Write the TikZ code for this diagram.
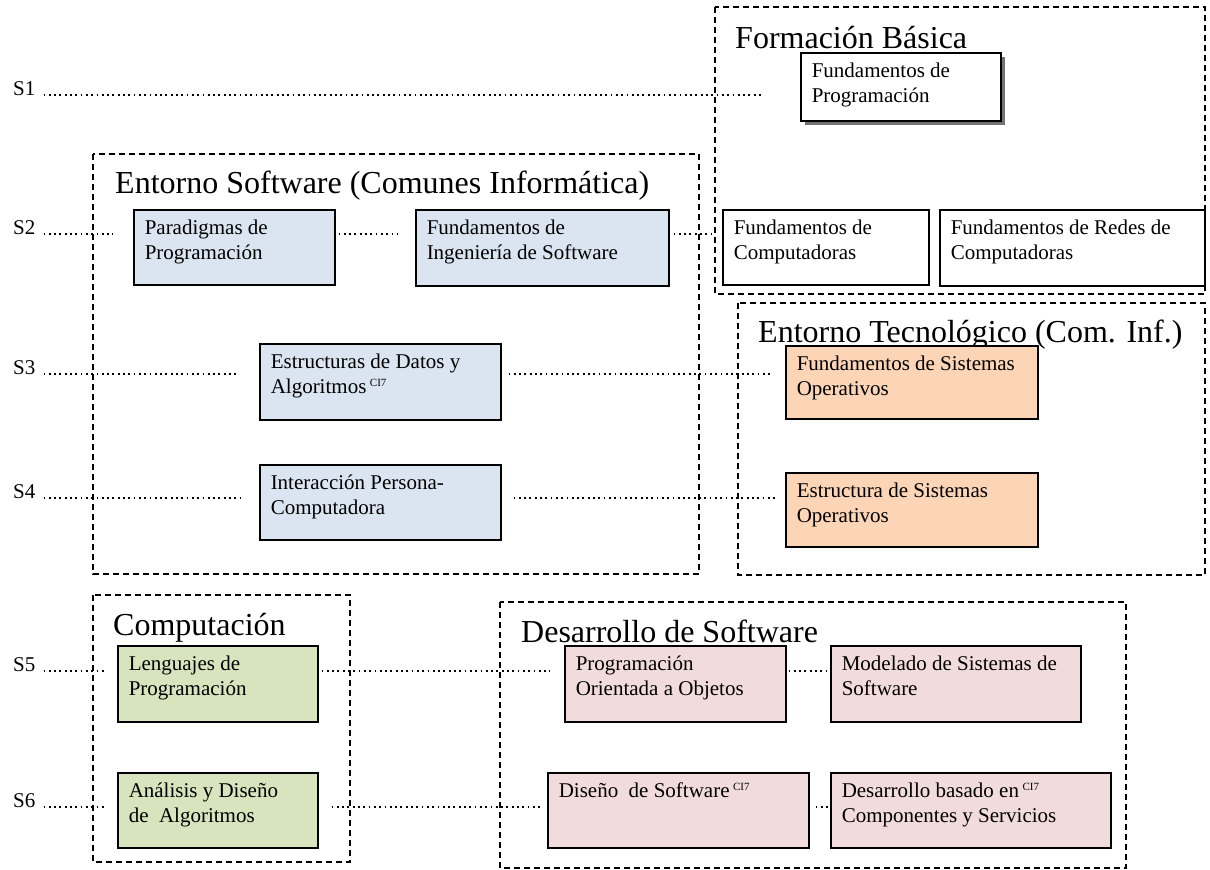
\documentclass[tikz,border=0pt]{standalone}
\usepackage{fontspec}
\setmainfont{Liberation Serif}
\usetikzlibrary{shadows}
\definecolor{azul}{HTML}{DBE5F1}
\definecolor{naranja}{HTML}{FBD5B5}
\definecolor{verde}{HTML}{D7E4BD}
\definecolor{rosa}{HTML}{F2DCDB}
\newcommand{\caja}[3]{\parbox[c][#2][t]{#1}{\raggedright\leftskip=11pt\relax\vspace*{7.5pt}\strut#3\par}}
\newcommand{\ci}{\,\raisebox{7pt}{\fontsize{11}{11}\selectfont CI7}}

\begin{document}
\begin{tikzpicture}[x=1pt,y=-1pt]
\tikzstyle{every node}+=[inner sep=0pt]
\tikzstyle{titulo}=[anchor=base west, font=\fontsize{32}{36}\selectfont]
\tikzstyle{etiq}=[anchor=base west, font=\fontsize{21}{25}\selectfont]
\tikzstyle{curso}=[draw, line width=1.5pt, anchor=north west, font=\fontsize{21}{25}\selectfont]
\tikzstyle{grupo}=[line width=1.3pt, dash pattern=on 6pt off 4pt]
\tikzstyle{punteado}=[line width=1.8pt, dash pattern=on 1.8pt off 3.5pt]
\useasboundingbox (0,0) rectangle (1210,870);

\draw[grupo] (715,7) rectangle (1205,294);
\draw[grupo] (93,154) rectangle (699,574);
\draw[grupo] (738,303) rectangle (1205,575);
\draw[grupo] (93,595) rectangle (350,862);
\draw[grupo] (500,602) rectangle (1126,868);

\node[titulo] (tfb) at (735,48) {Formación Básica};
\node[titulo] (tes) at (115,193) {Entorno Software (Comunes Informática)};
\node[titulo] (tet) at (758,342) {Entorno Tecnológico (Com. Inf.)};
\node[titulo] (tcomp) at (113,635) {Computación};
\node[titulo] (tdes) at (521,642) {Desarrollo de Software};

\node[curso, fill=white, drop shadow={shadow xshift=4pt, shadow yshift=-4pt, fill=black!55, opacity=1}] (fprog) at (800,52) {\caja{200pt}{68pt}{Fundamentos de\\Programación}};
\node[curso, fill=white] (fcomp) at (722,209) {\caja{206pt}{75pt}{Fundamentos de\\Computadoras}};
\node[curso, fill=white] (fredes) at (939,209) {\caja{265pt}{76pt}{Fundamentos de Redes de\\Computadoras}};
\node[curso, fill=azul] (parad) at (133,209) {\caja{201pt}{75pt}{Paradigmas de\\Programación}};
\node[curso, fill=azul] (fing) at (415,209) {\caja{253pt}{76pt}{Fundamentos de\\Ingeniería de Software}};
\node[curso, fill=azul] (estr) at (259,343) {\caja{241pt}{76pt}{Estructuras de Datos y\\Algoritmos\ci}};
\node[curso, fill=azul] (ipc) at (259,464) {\caja{241pt}{75pt}{Interacción Persona-\\Computadora}};
\node[curso, fill=naranja] (fso) at (785,345) {\caja{252pt}{73pt}{Fundamentos de Sistemas\\Operativos}};
\node[curso, fill=naranja] (eso) at (785,472) {\caja{252pt}{74pt}{Estructura de Sistemas\\Operativos}};
\node[curso, fill=verde] (leng) at (117,645) {\caja{200pt}{76pt}{Lenguajes de\\Programación}};
\node[curso, fill=verde] (anal) at (117,772) {\caja{200pt}{75pt}{Análisis y Diseño\\de \ Algoritmos}};
\node[curso, fill=rosa] (poo) at (564,645) {\caja{221pt}{76pt}{Programación\\Orientada a Objetos}};
\node[curso, fill=rosa] (model) at (830,645) {\caja{250pt}{76pt}{Modelado de Sistemas de\\Software}};
\node[curso, fill=rosa] (dsw) at (547,772) {\caja{261pt}{75pt}{Diseño \ de Software\ci}};
\node[curso, fill=rosa] (dbas) at (830,772) {\caja{280pt}{75pt}{Desarrollo basado en\ci\\Componentes y Servicios}};

\node[etiq] (s1) at (13,95) {S1};
\node[etiq] (s2) at (13,234) {S2};
\node[etiq] (s3) at (13,374) {S3};
\node[etiq] (s4) at (13,498) {S4};
\node[etiq] (s5) at (13,671) {S5};
\node[etiq] (s6) at (13,807) {S6};

\draw[punteado, shorten <=8pt, shorten >=38pt] (s1.base east) -- (s1.base -| fprog.west);
\draw[punteado, shorten <=8pt, shorten >=20pt] (s2.base east) -- (s2.base -| parad.west);
\draw[punteado, shorten <=3pt, shorten >=17pt] (s2.base -| parad.east) -- (s2.base -| fing.west);
\draw[punteado, shorten <=4pt, shorten >=10pt] (s2.base -| fing.east) -- (s2.base -| fcomp.west);
\draw[punteado, shorten <=8pt, shorten >=22pt] (s3.base east) -- (s3.base -| estr.west);
\draw[punteado, shorten <=7pt, shorten >=15pt] (s3.base -| estr.east) -- (s3.base -| fso.west);
\draw[punteado, shorten <=8pt, shorten >=19pt] (s4.base east) -- (s4.base -| ipc.west);
\draw[punteado, shorten <=12pt, shorten >=10pt] (s4.base -| ipc.east) -- (s4.base -| eso.west);
\draw[punteado, shorten <=8pt, shorten >=12pt] (s5.base east) -- (s5.base -| leng.west);
\draw[punteado, shorten <=3pt, shorten >=14pt] (s5.base -| leng.east) -- (s5.base -| poo.west);
\draw[punteado, shorten <=2pt, shorten >=3pt] (s5.base -| poo.east) -- (s5.base -| model.west);
\draw[punteado, shorten <=8pt, shorten >=12pt] (s6.base east) -- (s6.base -| anal.west);
\draw[punteado, shorten <=13pt, shorten >=7pt] (s6.base -| anal.east) -- (s6.base -| dsw.west);
\draw[punteado, shorten <=6pt, shorten >=2pt] (s6.base -| dsw.east) -- (s6.base -| dbas.west);
\end{tikzpicture}
\end{document}
